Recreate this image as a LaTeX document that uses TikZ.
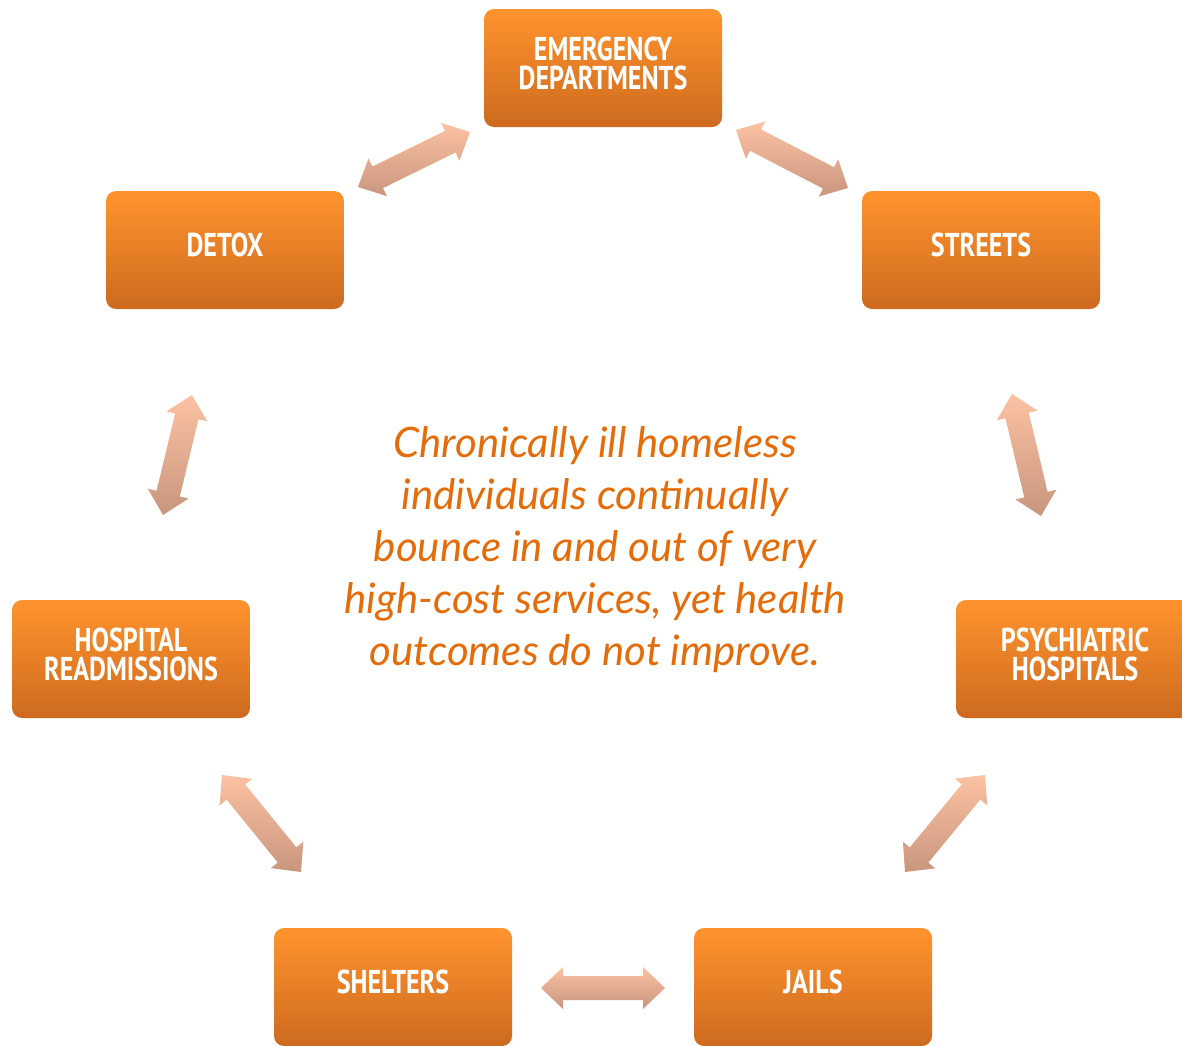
\documentclass[tikz,border=0pt]{standalone}
\usepackage{fontspec}
\newfontfamily\boxfont[FakeStretch=0.79]{PT Sans}
\newfontfamily\midfont{Lato}
\usetikzlibrary{calc}
\definecolor{boxtop}{RGB}{255,148,46}
\definecolor{boxbot}{RGB}{205,106,30}
\definecolor{arrtop}{RGB}{252,194,162}
\definecolor{arrbot}{RGB}{200,150,126}
\definecolor{midtext}{RGB}{228,108,10}
\tikzset{
  stage/.style={rounded corners=10pt, top color=boxtop, bottom color=boxbot,
    minimum width=238pt, minimum height=118pt, text=white, align=center,
    font=\boxfont\bfseries\fontsize{33}{29}\selectfont, inner sep=0pt,
    text depth=10pt},
  blockarrow/.style={top color=arrtop, bottom color=arrbot}
}
\newcommand\dblarrow[2]{%
  \path[blockarrow] let \p1=(#1), \p2=(#2),
    \n1={atan2(\y2-\y1,\x2-\x1)}, \n2={veclen(\x2-\x1,\y2-\y1)} in
    [shift={(\p1)}, rotate=\n1]
    (0,0) -- (22,21) -- (22,12) -- (\n2-22,12) -- (\n2-22,21) -- (\n2,0)
    -- (\n2-22,-21) -- (\n2-22,-12) -- (22,-12) -- (22,-21) -- cycle;}
\begin{document}
\begin{tikzpicture}[x=1pt,y=-1pt]
\useasboundingbox (0,0) rectangle (1182,1045);
\node[stage] (ed) at (603,68) {EMERGENCY\\DEPARTMENTS};
\node[stage] (detox) at (225,250) {DETOX};
\node[stage] (streets) at (981,250) {STREETS};
\node[stage] (hosp) at (131,659) {HOSPITAL\\READMISSIONS};
\node[stage] (psych) at (1075,659) {PSYCHIATRIC\\HOSPITALS};
\node[stage] (shelters) at (393,987) {SHELTERS};
\node[stage] (jails) at (813,987) {JAILS};
\node[text=midtext, align=center, font=\midfont\itshape\fontsize{42}{52}\selectfont] (msg) at (595,550)
  {Chronically ill homeless\\individuals continually\\bounce in and out of very\\high-cost services, yet health\\outcomes do not improve.};
\coordinate (a1s) at (358,187); \coordinate (a1e) at (470,132);
\coordinate (a2s) at (736,130); \coordinate (a2e) at (848,188);
\coordinate (a3s) at (192,395); \coordinate (a3e) at (163,515);
\coordinate (a4s) at (1012,394); \coordinate (a4e) at (1041,516);
\coordinate (a5s) at (222,775); \coordinate (a5e) at (301,872);
\coordinate (a6s) at (985,775); \coordinate (a6e) at (905,872);
\coordinate (a7s) at (541,988); \coordinate (a7e) at (665,988);
\dblarrow{a1s}{a1e}
\dblarrow{a2s}{a2e}
\dblarrow{a3s}{a3e}
\dblarrow{a4s}{a4e}
\dblarrow{a5s}{a5e}
\dblarrow{a6s}{a6e}
\dblarrow{a7s}{a7e}
\end{tikzpicture}
\end{document}
